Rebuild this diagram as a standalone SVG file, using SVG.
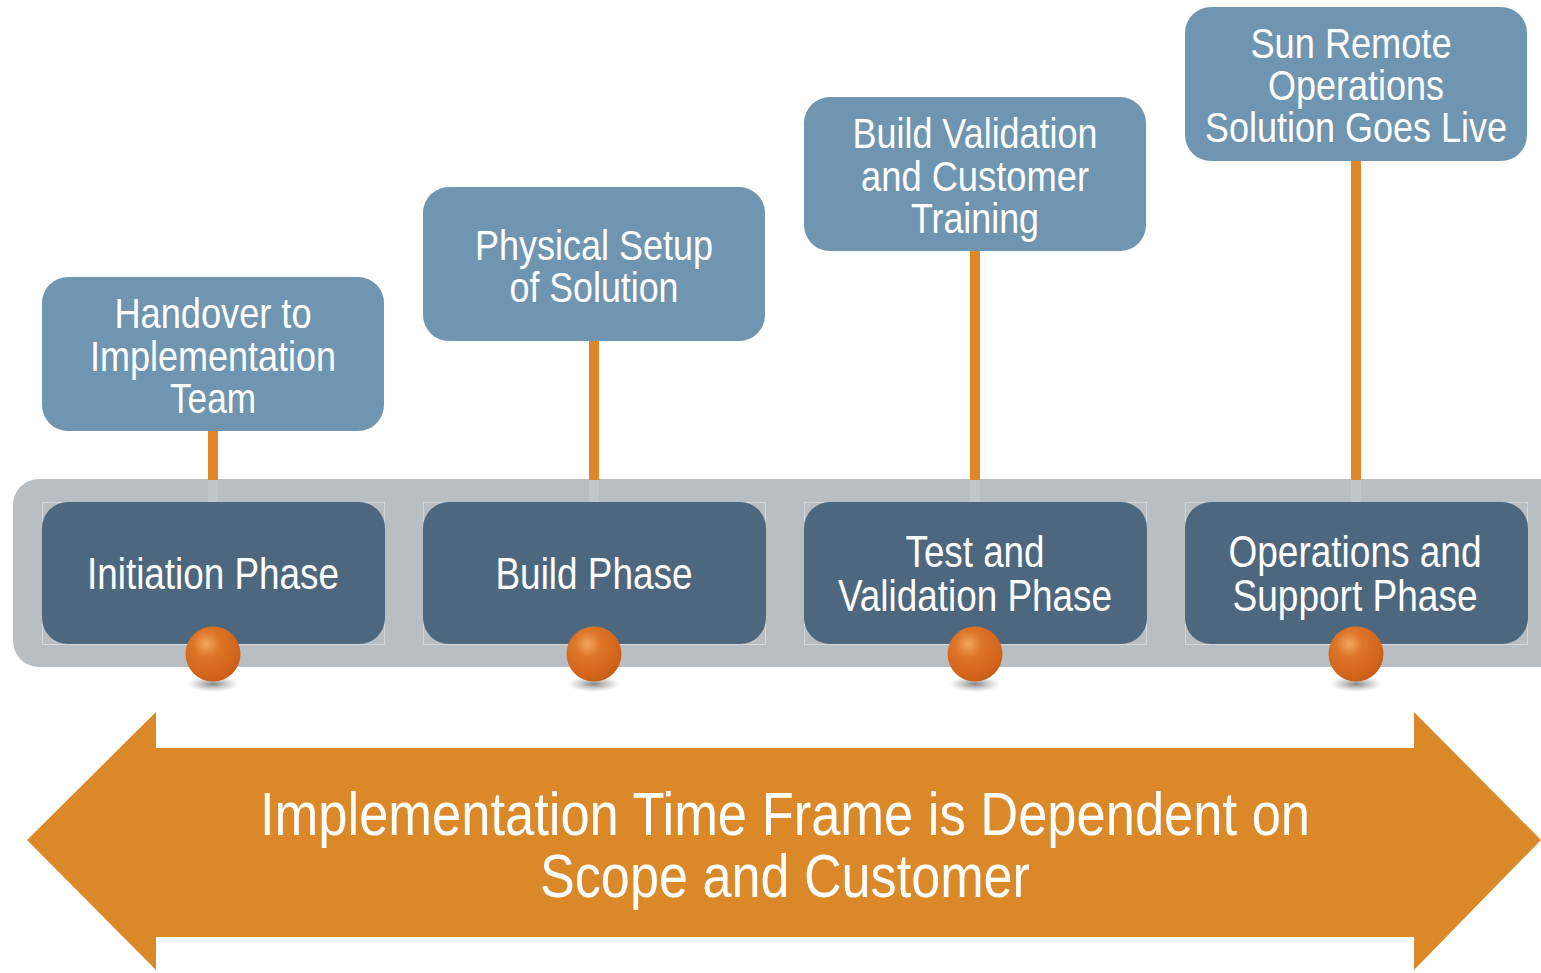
<svg xmlns="http://www.w3.org/2000/svg" width="1541" height="973" viewBox="0 0 1541 973">
<style>
.top{fill:#7095B1}
.dark{fill:#4D687E}
.frame{fill:none;stroke:#D3D7DB;stroke-width:1}
.t{font-family:"Liberation Sans",Arial,sans-serif;fill:#FFFFFF;text-anchor:middle}
.ts{font-size:42px}
.td{font-size:44px}
.tb{font-size:62px}
.conn{fill:#DF8628}
.ghost{fill:#C2C6CA}
</style>
<defs>
<radialGradient id="ball" cx="0.38" cy="0.32" r="0.7">
<stop offset="0" stop-color="#F2A75C"/>
<stop offset="0.35" stop-color="#DD7428"/>
<stop offset="0.8" stop-color="#D3661C"/>
<stop offset="1" stop-color="#C85D17"/>
</radialGradient>
<radialGradient id="shadow" cx="0.5" cy="0.5" r="0.5">
<stop offset="0" stop-color="#6F6F6F" stop-opacity="0.85"/>
<stop offset="1" stop-color="#9A9A9A" stop-opacity="0"/>
</radialGradient>
</defs>
<rect width="1541" height="973" fill="#FFFFFF"/>
<g id="timeline-band">
<rect x="13" y="479" width="1560" height="188" rx="26" fill="#B9BEC3"/>
</g>
<g id="connectors">
<rect class="conn" x="208" y="430" width="10" height="50"/>
<rect class="conn" x="589" y="340" width="10" height="140"/>
<rect class="conn" x="970" y="250" width="10" height="230"/>
<rect class="conn" x="1351" y="160" width="10" height="320"/>
<rect class="ghost" x="208" y="480" width="10" height="22"/>
<rect class="ghost" x="589" y="480" width="10" height="22"/>
<rect class="ghost" x="970" y="480" width="10" height="22"/>
<rect class="ghost" x="1351" y="480" width="10" height="22"/>
</g>
<g id="milestone-1">
<rect class="top" x="42" y="277" width="342" height="154" rx="26"/>
<text class="t ts" x="213" y="328" textLength="197" lengthAdjust="spacingAndGlyphs">Handover to</text>
<text class="t ts" x="213" y="371" textLength="246" lengthAdjust="spacingAndGlyphs">Implementation</text>
<text class="t ts" x="213" y="413" textLength="86" lengthAdjust="spacingAndGlyphs">Team</text>
</g>
<g id="milestone-2">
<rect class="top" x="423" y="187" width="342" height="154" rx="26"/>
<text class="t ts" x="594" y="260" textLength="238" lengthAdjust="spacingAndGlyphs">Physical Setup</text>
<text class="t ts" x="594" y="302" textLength="169" lengthAdjust="spacingAndGlyphs">of Solution</text>
</g>
<g id="milestone-3">
<rect class="top" x="804" y="97" width="342" height="154" rx="26"/>
<text class="t ts" x="975" y="148" textLength="245" lengthAdjust="spacingAndGlyphs">Build Validation</text>
<text class="t ts" x="975" y="191" textLength="228" lengthAdjust="spacingAndGlyphs">and Customer</text>
<text class="t ts" x="975" y="233" textLength="128" lengthAdjust="spacingAndGlyphs">Training</text>
</g>
<g id="milestone-4">
<rect class="top" x="1185" y="7" width="342" height="154" rx="26"/>
<text class="t ts" x="1351" y="58" textLength="201" lengthAdjust="spacingAndGlyphs">Sun Remote</text>
<text class="t ts" x="1356" y="100" textLength="176" lengthAdjust="spacingAndGlyphs">Operations</text>
<text class="t ts" x="1356" y="142" textLength="302" lengthAdjust="spacingAndGlyphs">Solution Goes Live</text>
</g>
<g id="phase-1">
<rect class="frame" x="42.5" y="502.5" width="342" height="142"/>
<rect class="dark" x="42" y="502" width="343" height="142" rx="26"/>
<text class="t td" x="213" y="589" textLength="252" lengthAdjust="spacingAndGlyphs">Initiation Phase</text>
</g>
<g id="phase-2">
<rect class="frame" x="423.5" y="502.5" width="342" height="142"/>
<rect class="dark" x="423" y="502" width="343" height="142" rx="26"/>
<text class="t td" x="594" y="589" textLength="197" lengthAdjust="spacingAndGlyphs">Build Phase</text>
</g>
<g id="phase-3">
<rect class="frame" x="804.5" y="502.5" width="342" height="142"/>
<rect class="dark" x="804" y="502" width="343" height="142" rx="26"/>
<text class="t td" x="975" y="567" textLength="139" lengthAdjust="spacingAndGlyphs">Test and</text>
<text class="t td" x="975" y="611" textLength="274" lengthAdjust="spacingAndGlyphs">Validation Phase</text>
</g>
<g id="phase-4">
<rect class="frame" x="1185.5" y="502.5" width="342" height="142"/>
<rect class="dark" x="1185" y="502" width="343" height="142" rx="26"/>
<text class="t td" x="1355" y="567" textLength="253" lengthAdjust="spacingAndGlyphs">Operations and</text>
<text class="t td" x="1355" y="611" textLength="245" lengthAdjust="spacingAndGlyphs">Support Phase</text>
</g>
<g id="markers">
<ellipse cx="213" cy="684" rx="26" ry="8" fill="url(#shadow)"/>
<ellipse cx="594" cy="684" rx="26" ry="8" fill="url(#shadow)"/>
<ellipse cx="975" cy="684" rx="26" ry="8" fill="url(#shadow)"/>
<ellipse cx="1356" cy="684" rx="26" ry="8" fill="url(#shadow)"/>
<circle cx="213" cy="654" r="27.5" fill="url(#ball)"/>
<circle cx="594" cy="654" r="27.5" fill="url(#ball)"/>
<circle cx="975" cy="654" r="27.5" fill="url(#ball)"/>
<circle cx="1356" cy="654" r="27.5" fill="url(#ball)"/>
</g>
<g id="timeframe-arrow">
<polygon points="27,840 156,712 156,748 1414,748 1414,712 1541,840 1414,970 1414,937 156,937 156,970" fill="#DB8828"/>
<text class="t tb" x="785" y="835" textLength="1050" lengthAdjust="spacingAndGlyphs">Implementation Time Frame is Dependent on</text>
<text class="t tb" x="785" y="897" textLength="490" lengthAdjust="spacingAndGlyphs">Scope and Customer</text>
</g>
</svg>
